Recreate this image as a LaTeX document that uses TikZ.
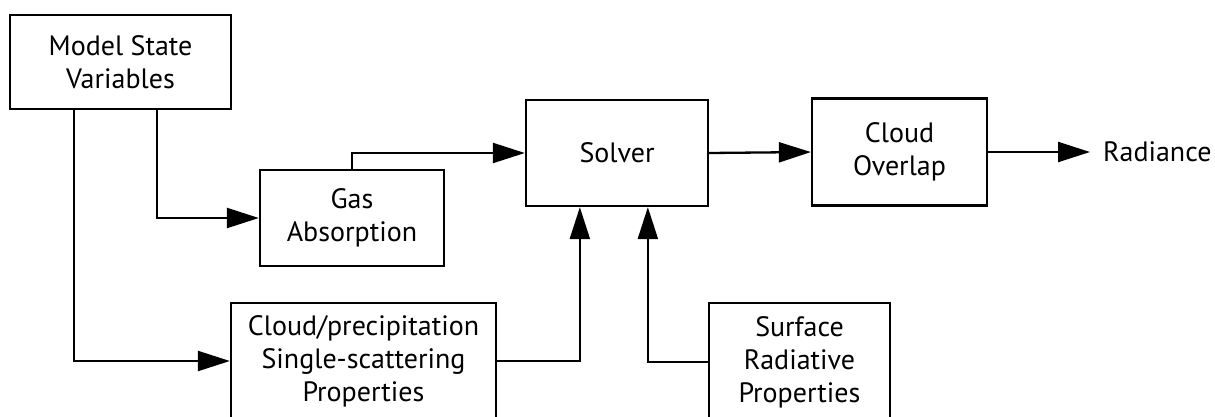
\documentclass[tikz,border=0pt]{standalone}
\usepackage{fontspec}
\setmainfont{PT Sans}
\usetikzlibrary{arrows.meta,calc}
\begin{document}
\begin{tikzpicture}[x=1pt,y=-1pt,
  box/.style={draw,line width=2.3pt,rectangle,inner sep=0pt,align=center,
    font=\fontsize{28}{33}\selectfont},
  conn/.style={line width=2.3pt,-{Triangle[length=32pt,width=20pt]}},
  lbl/.style={inner sep=0pt,anchor=west,font=\fontsize{28}{33}\selectfont}]
\useasboundingbox (0,0) rectangle (1215,416);
\clip (0,0) rectangle (1215,416);
\node[box,minimum width=221pt,minimum height=94pt] (msv) at (120.5,62) {Model State\\Variables};
\node[box,minimum width=184pt,minimum height=96pt] (gas) at (352,218) {Gas\\Absorption};
\node[box,minimum width=182pt,minimum height=106pt] (solver) at (617,153) {Solver};
\node[box,minimum width=175pt,minimum height=107pt] (ovl) at (899.5,152) {Cloud\\Overlap};
\node[box,minimum width=265pt,minimum height=116pt] (prec) at (363.5,361) {Cloud/precipitation\\Single-scattering\\Properties};
\node[box,minimum width=181pt,minimum height=118pt] (surf) at (799.5,362) {Surface\\Radiative\\Properties};
\node[lbl] (rad) at (1103,152) {Radiance};
\coordinate (m1) at ($(msv.south west)+(65,0)$);
\coordinate (m2) at ($(msv.south west)+(148,0)$);
\coordinate (s1) at ($(solver.south west)+(55,0)$);
\coordinate (s2) at ($(solver.south west)+(123,0)$);
\coordinate (re) at ($(rad.west)+(-13,0)$);
\draw[conn] (m1) |- (prec.west);
\draw[conn] (m2) |- (gas.west);
\draw[conn] (gas.north) |- (solver.west);
\draw[conn] (solver.east) -- (ovl.west);
\draw[conn] (ovl.east) -- (re);
\draw[conn] (prec.east) -| (s1);
\draw[conn] (surf.west) -| (s2);
\end{tikzpicture}
\end{document}
